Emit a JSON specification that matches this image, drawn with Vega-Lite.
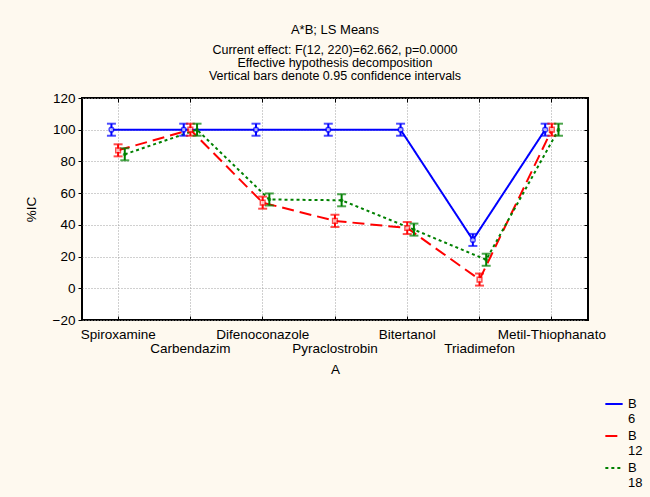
{
  "$schema": "https://vega.github.io/schema/vega-lite/v6.json",
  "width": 506,
  "height": 222,
  "autosize": {"type": "none"},
  "padding": {"left": 82, "top": 98, "right": 62, "bottom": 177},
  "background": "#FEF9EF",
  "config": {
    "font": "Liberation Sans",
    "view": {"fill": "#FFFFFF", "stroke": "#000000", "strokeWidth": 2},
    "axis": {"labelFont": "Liberation Sans", "titleFont": "Liberation Sans", "labelFontSize": 13.5, "titleFontSize": 13.5, "labelColor": "#000000", "titleColor": "#000000", "titleFontWeight": "normal", "tickColor": "#000000", "domain": false, "gridColor": "#A0A0A0", "gridDash": [1, 2], "gridWidth": 1}
  },
  "title": {
    "text": "A*B; LS Means",
    "subtitle": ["Current effect: F(12, 220)=62.662, p=0.0000", "Effective hypothesis decomposition", "Vertical bars denote 0.95 confidence intervals"],
    "font": "Liberation Sans",
    "fontSize": 13,
    "fontWeight": "normal",
    "color": "#000000",
    "subtitleFont": "Liberation Sans",
    "subtitleFontSize": 12.5,
    "subtitleColor": "#000000",
    "subtitleLineHeight": 13,
    "subtitlePadding": 7,
    "anchor": "middle",
    "offset": 9
  },
  "data": {
    "values": [
      {"A": "Spiroxamine", "B": "6", "m": 100, "lo": 96.2, "hi": 103.8},
      {"A": "Carbendazim", "B": "6", "m": 100, "lo": 96.2, "hi": 103.8},
      {"A": "Difenoconazole", "B": "6", "m": 100, "lo": 96.2, "hi": 103.8},
      {"A": "Pyraclostrobin", "B": "6", "m": 100, "lo": 96.2, "hi": 103.8},
      {"A": "Bitertanol", "B": "6", "m": 100, "lo": 96.2, "hi": 103.8},
      {"A": "Triadimefon", "B": "6", "m": 30.5, "lo": 26.7, "hi": 34.3},
      {"A": "Metil-Thiophanato", "B": "6", "m": 100, "lo": 96.2, "hi": 103.8},
      {"A": "Spiroxamine", "B": "12", "m": 87, "lo": 83.2, "hi": 90.8},
      {"A": "Carbendazim", "B": "12", "m": 100, "lo": 96.2, "hi": 103.8},
      {"A": "Difenoconazole", "B": "12", "m": 54, "lo": 50.2, "hi": 57.8},
      {"A": "Pyraclostrobin", "B": "12", "m": 42.5, "lo": 38.7, "hi": 46.3},
      {"A": "Bitertanol", "B": "12", "m": 38, "lo": 34.2, "hi": 41.8},
      {"A": "Triadimefon", "B": "12", "m": 5.5, "lo": 1.7, "hi": 9.3},
      {"A": "Metil-Thiophanato", "B": "12", "m": 100, "lo": 96.2, "hi": 103.8},
      {"A": "Spiroxamine", "B": "18", "m": 84.5, "lo": 80.7, "hi": 88.3},
      {"A": "Carbendazim", "B": "18", "m": 100, "lo": 96.2, "hi": 103.8},
      {"A": "Difenoconazole", "B": "18", "m": 56, "lo": 52.2, "hi": 59.8},
      {"A": "Pyraclostrobin", "B": "18", "m": 55.5, "lo": 51.7, "hi": 59.3},
      {"A": "Bitertanol", "B": "18", "m": 37, "lo": 33.2, "hi": 40.8},
      {"A": "Triadimefon", "B": "18", "m": 18, "lo": 14.2, "hi": 21.8},
      {"A": "Metil-Thiophanato", "B": "18", "m": 100, "lo": 96.2, "hi": 103.8}
    ]
  },
  "resolve": {"scale": {"x": "shared", "y": "shared"}, "axis": {"x": "independent", "y": "independent"}},
  "layer": [
    {
      "mark": {"type": "line", "strokeWidth": 2},
      "encoding": {
        "x": {"field": "A", "type": "nominal", "sort": null,
              "scale": {"domain": ["Spiroxamine", "Carbendazim", "Difenoconazole", "Pyraclostrobin", "Bitertanol", "Triadimefon", "Metil-Thiophanato"], "paddingInner": 0, "paddingOuter": 0},
              "axis": {"orient": "bottom", "title": "A", "labelAngle": 0, "grid": true, "tickSize": -4, "labelPadding": 11, "titlePadding": 8, "labelLineHeight": 14,
                       "labelExpr": "indexof(['Carbendazim','Pyraclostrobin','Triadimefon'], datum.value) >= 0 ? ['', datum.value] : datum.value"}},
        "xOffset": {"field": "B", "type": "nominal", "sort": ["6", "12", "18"], "scale": {"type": "point", "range": [26.1, 46.1]}},
        "y": {"field": "m", "type": "quantitative",
              "scale": {"domain": [-20, 120], "nice": false, "zero": false},
              "axis": {"orient": "left", "title": "%IC", "values": [-20, 0, 20, 40, 60, 80, 100, 120], "grid": true, "tickSize": 4, "labelPadding": 3, "titlePadding": 14}},
        "color": {"field": "B", "type": "nominal", "sort": ["6", "12", "18"],
                  "scale": {"domain": ["6", "12", "18"], "range": ["#0000FF", "#FF0000", "#008000"]},
                  "legend": {"orient": "none", "legendX": 522, "legendY": 296, "title": null, "symbolType": "stroke", "symbolSize": 300, "symbolStrokeWidth": 2, "labelFont": "Liberation Sans", "labelFontSize": 13, "labelColor": "#000000", "rowPadding": 0, "labelLineHeight": 13, "labelExpr": "['B', ' ' + datum.label]", "labelOffset": 4}},
        "strokeDash": {"field": "B", "type": "nominal", "sort": ["6", "12", "18"],
                       "scale": {"domain": ["6", "12", "18"], "range": [[1, 0], [12, 6], [3, 3]]}}
      }
    },
    {
      "mark": {"type": "rule", "strokeWidth": 2},
      "encoding": {
        "x": {"field": "A", "type": "nominal", "sort": null, "axis": {"orient": "top", "labels": false, "title": null, "grid": false, "tickSize": -4}},
        "xOffset": {"field": "B", "type": "nominal", "sort": ["6", "12", "18"], "scale": {"type": "point", "range": [26.1, 46.1]}},
        "y": {"field": "lo", "type": "quantitative", "axis": {"orient": "right", "labels": false, "title": null, "grid": false, "tickSize": -4, "values": [-20, 0, 20, 40, 60, 80, 100, 120]}},
        "y2": {"field": "hi"},
        "color": {"field": "B", "type": "nominal", "legend": null}
      }
    },
    {
      "mark": {"type": "tick", "thickness": 2, "size": 9},
      "encoding": {
        "x": {"field": "A", "type": "nominal", "sort": null, "axis": null},
        "xOffset": {"field": "B", "type": "nominal", "sort": ["6", "12", "18"], "scale": {"type": "point", "range": [26.1, 46.1]}},
        "y": {"field": "lo", "type": "quantitative", "axis": null},
        "color": {"field": "B", "type": "nominal", "legend": null}
      }
    },
    {
      "mark": {"type": "tick", "thickness": 2, "size": 9},
      "encoding": {
        "x": {"field": "A", "type": "nominal", "sort": null, "axis": null},
        "xOffset": {"field": "B", "type": "nominal", "sort": ["6", "12", "18"], "scale": {"type": "point", "range": [26.1, 46.1]}},
        "y": {"field": "hi", "type": "quantitative", "axis": null},
        "color": {"field": "B", "type": "nominal", "legend": null}
      }
    },
    {
      "transform": [{"filter": "datum.B != '18'"}],
      "mark": {"type": "point", "filled": false, "strokeWidth": 1.5, "size": 22, "fill": "#FFFFFF"},
      "encoding": {
        "x": {"field": "A", "type": "nominal", "sort": null, "axis": null},
        "xOffset": {"field": "B", "type": "nominal", "sort": ["6", "12", "18"], "scale": {"type": "point", "range": [26.1, 46.1]}},
        "y": {"field": "m", "type": "quantitative", "axis": null},
        "shape": {"field": "B", "type": "nominal", "scale": {"domain": ["6", "12"], "range": ["circle", "square"]}, "legend": null},
        "color": {"field": "B", "type": "nominal", "legend": null}
      }
    },
    {
      "transform": [{"filter": "datum.B == '18'"}],
      "mark": {"type": "point", "filled": true, "size": 14, "shape": "circle"},
      "encoding": {
        "x": {"field": "A", "type": "nominal", "sort": null, "axis": null},
        "xOffset": {"field": "B", "type": "nominal", "sort": ["6", "12", "18"], "scale": {"type": "point", "range": [26.1, 46.1]}},
        "y": {"field": "m", "type": "quantitative", "axis": null},
        "color": {"field": "B", "type": "nominal", "legend": null}
      }
    }
  ]
}
